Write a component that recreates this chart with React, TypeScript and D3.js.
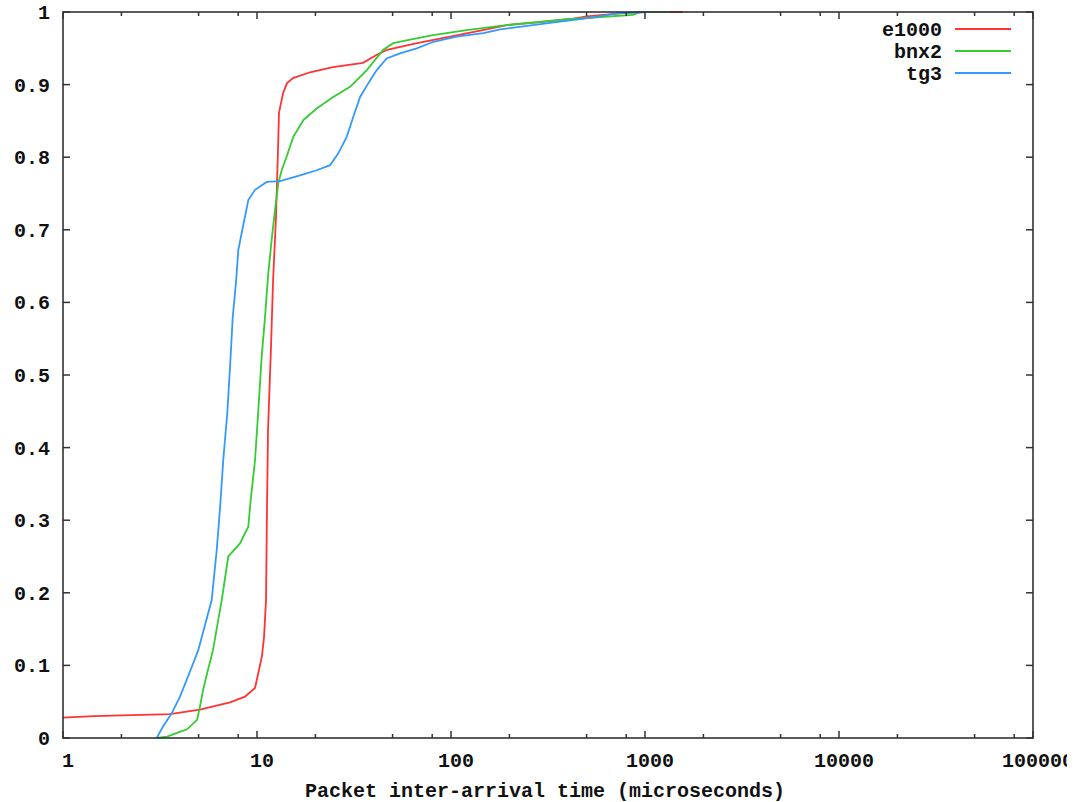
import React from "react";
import * as d3 from "d3";

const e1000: [number, number][] = [
  [1, 0.028], [1.44, 0.03], [3.56, 0.033], [5.08, 0.039], [7.26, 0.049], [8.67, 0.057],
  [9.77, 0.069], [10.24, 0.094], [10.6, 0.112], [10.87, 0.139], [11.13, 0.19], [11.26, 0.317],
  [11.4, 0.424], [11.81, 0.539], [12.09, 0.627], [12.53, 0.718], [12.83, 0.81], [12.98, 0.861],
  [13.62, 0.888], [14.28, 0.902], [15.34, 0.909], [18.76, 0.917], [24.64, 0.924], [35.2, 0.93],
  [41.5, 0.941], [46.8, 0.948], [66.8, 0.957], [98.9, 0.966], [146, 0.975], [194, 0.982],
  [288, 0.986], [426, 0.991], [502, 0.994], [743, 0.998], [1000, 1.0], [1570, 1.0],
];

const bnx2: [number, number][] = [
  [3.04, 0.0], [3.44, 0.002], [3.87, 0.007], [4.36, 0.012], [4.91, 0.025], [5.08, 0.043],
  [5.27, 0.066], [5.59, 0.094], [5.93, 0.121], [6.58, 0.19], [7.11, 0.25], [8.17, 0.268],
  [9.02, 0.291], [9.28, 0.328], [9.77, 0.383], [10.16, 0.452], [10.57, 0.525], [11.0, 0.58],
  [11.43, 0.64], [11.9, 0.686], [12.38, 0.727], [12.87, 0.764], [13.4, 0.782], [14.22, 0.801],
  [15.38, 0.828], [17.33, 0.851], [20.3, 0.867], [24.7, 0.883], [30.2, 0.897], [36.8, 0.92],
  [44.8, 0.948], [50.4, 0.957], [61.5, 0.962], [80.8, 0.968], [120.5, 0.975], [179, 0.981],
  [400, 0.99], [867, 0.996], [950, 1.0], [1346, 1.0],
];

const tg3: [number, number][] = [
  [3.04, 0.0], [3.28, 0.016], [3.63, 0.034], [4.01, 0.057], [4.34, 0.08], [4.69, 0.103],
  [4.98, 0.121], [5.84, 0.19], [6.2, 0.259], [6.45, 0.317], [6.7, 0.383], [7.03, 0.448],
  [7.26, 0.511], [7.5, 0.58], [7.79, 0.627], [8.01, 0.672], [8.34, 0.696], [8.67, 0.718],
  [9.02, 0.741], [9.77, 0.755], [11.22, 0.766], [13.14, 0.767], [16.66, 0.775], [20.3, 0.782],
  [23.8, 0.789], [26.2, 0.805], [29.0, 0.828], [31.4, 0.856], [34.0, 0.883], [37.5, 0.902],
  [41.4, 0.92], [46.6, 0.936], [54.6, 0.943], [66.6, 0.95], [81.1, 0.959], [107, 0.966],
  [147, 0.971], [179, 0.976], [324, 0.985], [520, 0.992], [717, 0.998], [1024, 1.0],
];

const seriesNames = ["e1000", "bnx2", "tg3"];
const seriesColors = ["#ff3333", "#33cc33", "#3399ff"];
const seriesData = [e1000, bnx2, tg3];

const xMajorTicks = [1, 10, 100, 1000, 10000, 100000];
const xMinorMultipliers = [2, 5, 8];
const yTicks = [0, 0.1, 0.2, 0.3, 0.4, 0.5, 0.6, 0.7, 0.8, 0.9, 1];
const xTitle = "Packet inter-arrival time (microseconds)";

export default function App() {
  const W = 1079, H = 802;
  const left = 63, right = 1033, top = 12, bottom = 738;
  const x = d3.scaleLog().domain([1, 100000]).range([left, right]);
  const y = d3.scaleLinear().domain([0, 1]).range([bottom, top]);
  const line = d3.line<[number, number]>().x((d) => x(d[0])).y((d) => y(d[1]));
  const font = "'Liberation Mono', 'DejaVu Sans Mono', monospace";
  const axisColor = "#333";

  const minorTicks: number[] = [];
  xMajorTicks.slice(0, -1).forEach((m) => xMinorMultipliers.forEach((k) => minorTicks.push(m * k)));

  const yLabel = (v: number) => (v === 0 ? "0" : v === 1 ? "1" : v.toFixed(1));

  return (
    <svg width={W} height={H} style={{ position: "absolute", left: 0, top: 0, background: "#fff" }}>
      <defs>
        <clipPath id="pageclip">
          <rect x={0} y={0} width={1067} height={H} />
        </clipPath>
      </defs>
      <rect x={0} y={0} width={W} height={H} fill="#fff" />
      {/* Curves */}
      {seriesData.map((d, i) => (
        <path key={seriesNames[i]} d={line(d) || ""} fill="none" stroke={seriesColors[i]} strokeWidth={1.8} />
      ))}
      {/* Frame */}
      <rect x={left} y={top} width={right - left} height={bottom - top} fill="none" stroke={axisColor} strokeWidth={1.6} />
      {/* Y ticks */}
      {yTicks.map((v) => (
        <g key={"y" + v}>
          <line x1={left} x2={left + 7} y1={y(v)} y2={y(v)} stroke={axisColor} strokeWidth={1.5} />
          <line x1={right} x2={right - 7} y1={y(v)} y2={y(v)} stroke={axisColor} strokeWidth={1.5} />
          <text x={50} y={y(v) + 7} textAnchor="end" fontFamily={font} fontWeight="bold" fontSize={20} fill="#111">
            {yLabel(v)}
          </text>
        </g>
      ))}
      {/* X ticks */}
      {xMajorTicks.map((v) => (
        <g key={"x" + v}>
          <line x1={x(v)} x2={x(v)} y1={bottom} y2={bottom - 7} stroke={axisColor} strokeWidth={1.5} />
          <line x1={x(v)} x2={x(v)} y1={top} y2={top + 7} stroke={axisColor} strokeWidth={1.5} />
          <text x={x(v) + 5} y={767} textAnchor="middle" fontFamily={font} fontWeight="bold" fontSize={20} fill="#111" clipPath="url(#pageclip)">
            {String(v)}
          </text>
        </g>
      ))}
      {minorTicks.map((v) => (
        <g key={"m" + v}>
          <line x1={x(v)} x2={x(v)} y1={bottom} y2={bottom - 4} stroke={axisColor} strokeWidth={1.5} />
          <line x1={x(v)} x2={x(v)} y1={top} y2={top + 4} stroke={axisColor} strokeWidth={1.5} />
        </g>
      ))}
      {/* X title */}
      <text x={545} y={797} textAnchor="middle" fontFamily={font} fontWeight="bold" fontSize={20} fill="#111">
        {xTitle}
      </text>
      {/* Legend */}
      {seriesNames.map((n, i) => (
        <g key={"leg" + n}>
          <text x={942} y={36 + i * 22} textAnchor="end" fontFamily={font} fontWeight="bold" fontSize={20} fill="#111">
            {n}
          </text>
          <line x1={955} x2={1011} y1={29 + i * 22} y2={29 + i * 22} stroke={seriesColors[i]} strokeWidth={1.8} />
        </g>
      ))}
    </svg>
  );
}
